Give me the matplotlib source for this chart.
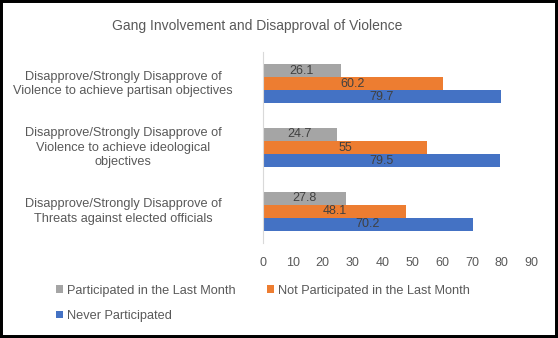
import matplotlib
matplotlib.use("Agg")
import matplotlib.pyplot as plt
from matplotlib.patches import Rectangle, Patch
import numpy as np

plt.rcParams['font.family'] = ['Liberation Sans', 'DejaVu Sans']

categories = [
    "Disapprove/Strongly Disapprove of\nViolence to achieve partisan objectives",
    "Disapprove/Strongly Disapprove of\nViolence to achieve ideological\nobjectives",
    "Disapprove/Strongly Disapprove of\nThreats against elected officials",
]
series_names = [
    "Participated in the Last Month",
    "Not Participated in the Last Month",
    "Never Participated",
]
participated_last_month = [26.1, 24.7, 27.8]
not_participated_last_month = [60.2, 55, 48.1]
never_participated = [79.7, 79.5, 70.2]
x_ticks = [0, 10, 20, 30, 40, 50, 60, 70, 80, 90]

colors = ["#A5A5A5", "#ED7D31", "#4472C4"]
text_gray = "#595959"

fig = plt.figure(figsize=(5.58, 3.38), dpi=100)
ax = fig.add_axes([0.4708, 0.281, 0.4821, 0.565])

values = [participated_last_month, not_participated_last_month, never_participated]
y = np.arange(len(categories))
h = 0.205
offsets = [-h, 0, h]
for vals, off, col, name in zip(values, offsets, colors, series_names):
    bars = ax.barh(y + off, vals, height=h, color=col, label=name)
    labels = [f"{v:g}" for v in vals]
    ax.bar_label(bars, labels=labels, label_type='center', fontsize=9,
                 color="#404040")

ax.set_ylim(2.5, -0.5)
ax.set_xlim(0, 90)
ax.set_xticks(x_ticks)
ax.set_yticks(y)
ax.set_yticklabels([])
for i, cat in enumerate(categories):
    ax.text(-0.519, i, cat, transform=ax.get_yaxis_transform(), ha='center',
            va='center', fontsize=9.2, color=text_gray, linespacing=1.3,
            multialignment='center')
ax.tick_params(axis='both', length=0, labelsize=9, colors=text_gray)
ax.tick_params(axis='x', pad=10)
for s in ['top', 'right', 'bottom']:
    ax.spines[s].set_visible(False)
ax.spines['left'].set_color("#D9D9D9")
ax.spines['left'].set_linewidth(0.8)

fig.text(0.4606, 0.922, "Gang Involvement and Disapproval of Violence",
         ha='center', va='center', fontsize=10, color=text_gray)

# ncol=2 fills column by column, so order handles to read row by row
order = [0, 2, 1]
handles = [Patch(facecolor=colors[k], edgecolor='none') for k in order]
names = [series_names[k] for k in order]
fig.legend(handles, names, loc='upper left', bbox_to_anchor=(0.1, 0.158),
           ncol=2, frameon=False, fontsize=9.2, labelcolor=text_gray,
           handlelength=0.55, handleheight=0.55, handletextpad=0.3,
           columnspacing=2.5, labelspacing=1.05, borderaxespad=0,
           borderpad=0)

fig.patches.append(Rectangle((0, 0), 1, 1, transform=fig.transFigure,
                             fill=False, edgecolor='black', linewidth=4.3,
                             zorder=10))

fig.savefig("out.png", dpi=100)
